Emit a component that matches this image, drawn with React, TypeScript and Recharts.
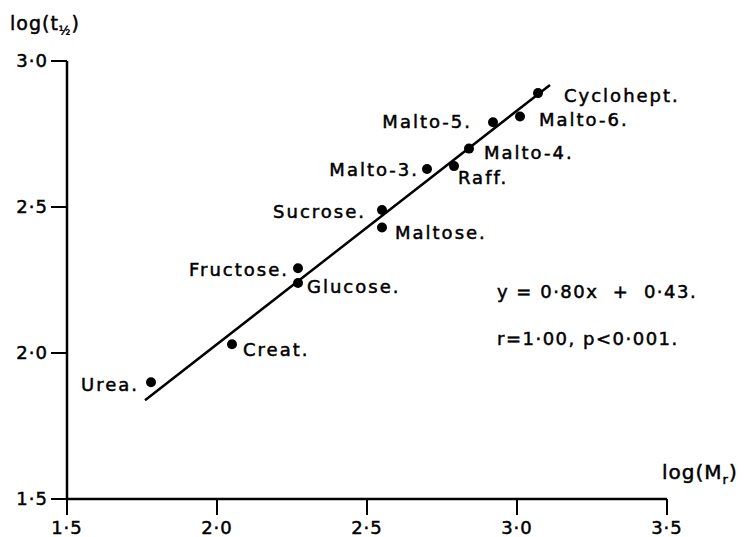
import React from "react";
import { ScatterChart, Scatter, XAxis, YAxis } from "recharts";

const NAMES = ["Urea.", "Creat.", "Glucose.", "Fructose.", "Sucrose.", "Maltose.", "Malto-3.", "Raff.", "Malto-4.", "Malto-5.", "Malto-6.", "Cyclohept."];
const LOG_MR = [1.78, 2.05, 2.27, 2.27, 2.55, 2.55, 2.7, 2.79, 2.84, 2.92, 3.01, 3.07];
const LOG_T = [1.9, 2.03, 2.24, 2.29, 2.49, 2.43, 2.63, 2.64, 2.7, 2.79, 2.81, 2.89];

const X_TICKS = [1.5, 2.0, 2.5, 3.0, 3.5];
const Y_TICKS = [1.5, 2.0, 2.5, 3.0];

// regression y = 0.80x + 0.43, drawn over this x range
const SLOPE = 0.8;
const INTERCEPT = 0.43;
const FIT_X = [1.76, 3.11];

// where each label sits relative to its dot
const LABEL_POS: Record<string, [number, number, "start" | "end"]> = {
  "Urea.": [-12, 2, "end"],
  "Creat.": [11, 5, "start"],
  "Glucose.": [9, 4, "start"],
  "Fructose.": [-9, 1, "end"],
  "Sucrose.": [-16, 2, "end"],
  "Maltose.": [13, 5, "start"],
  "Malto-3.": [-8, 0, "end"],
  "Raff.": [4, 11, "start"],
  "Malto-4.": [15, 4, "start"],
  "Malto-5.": [-21, -1, "end"],
  "Malto-6.": [19, 3, "start"],
  "Cyclohept.": [26, 2, "start"],
};

const FONT = "'DejaVu Sans', sans-serif";

const points = NAMES.map((name, i) => ({ name, x: LOG_MR[i], y: LOG_T[i] }));
const fit = FIT_X.map((x) => ({ x, y: SLOPE * x + INTERCEPT }));

const fmt = (v: number) => v.toFixed(1).replace(".", "·");

const Dot = (props: any) => {
  const { cx, cy, payload } = props;
  const [dx, dy, anchor] = LABEL_POS[payload.name] || [10, 0, "start"];
  return (
    <g>
      <circle cx={cx} cy={cy} r={5} fill="#000" />
      <text
        x={cx + dx}
        y={cy + dy}
        textAnchor={anchor}
        dominantBaseline="central"
        fontFamily={FONT}
        fontSize={18}
        letterSpacing={2}
        fill="#000"
        stroke="#000"
        strokeWidth={0.5}
      >
        {payload.name}
      </text>
    </g>
  );
};

const tickStyle = { fill: "#000", stroke: "#000", strokeWidth: 0.5, fontSize: 18, fontFamily: FONT, letterSpacing: 1 };
const overlay = { position: "absolute" as const, WebkitTextStroke: "0.5px #000", whiteSpace: "pre" as const };

export default function App() {
  return (
    <div style={{ position: "relative", width: 748, height: 537, background: "#fff", fontFamily: FONT }}>
      <style>{"body{margin:0}"}</style>
      <ScatterChart width={748} height={537} margin={{ top: 61, right: 81, bottom: 0, left: 17 }}>
        <XAxis
          type="number"
          dataKey="x"
          domain={[1.5, 3.5]}
          ticks={X_TICKS}
          tickFormatter={fmt}
          height={38}
          axisLine={{ stroke: "#000", strokeWidth: 2.5 }}
          tickLine={{ stroke: "#000", strokeWidth: 2 }}
          tickSize={16}
          tickMargin={6}
          tick={tickStyle}
          interval={0}
        />
        <YAxis
          type="number"
          dataKey="y"
          domain={[1.5, 3.0]}
          ticks={Y_TICKS}
          tickFormatter={fmt}
          width={50}
          axisLine={{ stroke: "#000", strokeWidth: 2.5 }}
          tickLine={{ stroke: "#000", strokeWidth: 2 }}
          tickSize={16}
          tickMargin={3}
          tick={tickStyle}
          interval={0}
        />
        <Scatter
          data={fit}
          line={{ stroke: "#000", strokeWidth: 2.5 }}
          shape={() => <g />}
          isAnimationActive={false}
        />
        <Scatter data={points} shape={Dot} isAnimationActive={false} />
      </ScatterChart>

      <div style={{ ...overlay, left: 10, top: 12, fontSize: 19, letterSpacing: 1 }}>
        log(t<sub style={{ fontSize: 12 }}>½</sub>)
      </div>
      <div style={{ ...overlay, left: 662, top: 460, fontSize: 20, letterSpacing: 1 }}>
        log(M<sub style={{ fontSize: 13 }}>r</sub>)
      </div>
      <div style={{ ...overlay, left: 497, top: 281, fontSize: 18, letterSpacing: 1.5 }}>
        {"y = 0·80x  +  0·43."}
      </div>
      <div style={{ ...overlay, left: 497, top: 328, fontSize: 18, letterSpacing: 1.5 }}>
        {"r=1·00, p<0·001."}
      </div>
    </div>
  );
}
